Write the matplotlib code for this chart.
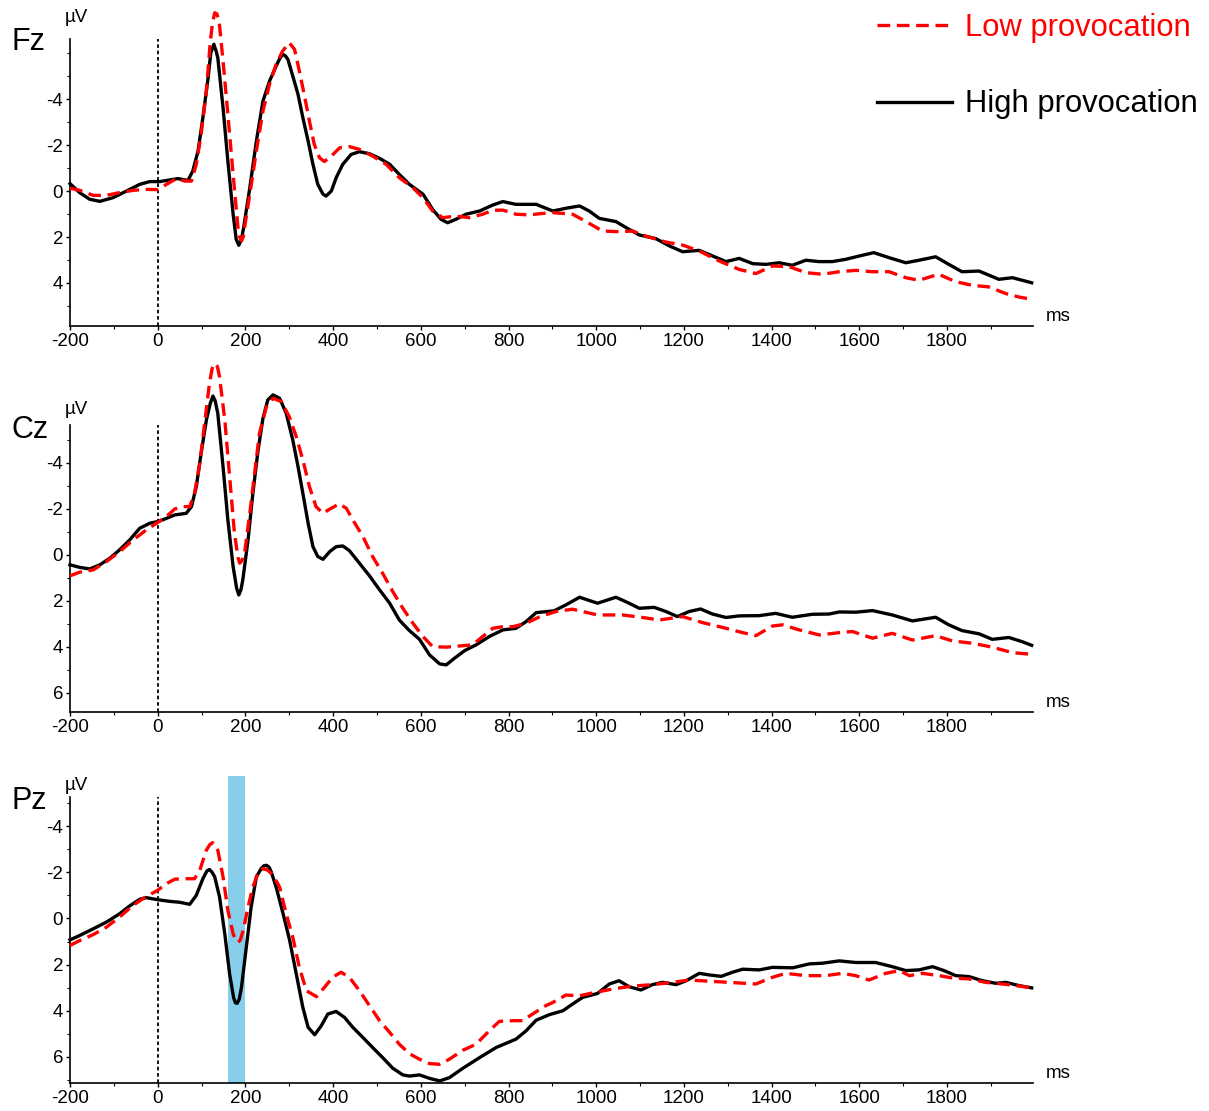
import matplotlib
matplotlib.use("Agg")
import matplotlib.pyplot as plt
from matplotlib.lines import Line2D
from matplotlib.patches import Rectangle
from matplotlib.ticker import MultipleLocator, FixedLocator

plt.rcParams['font.family'] = ['Liberation Sans', 'DejaVu Sans']
plt.rcParams['axes.unicode_minus'] = False

# (ms, µV); negative is plotted upwards
fz_high = [(-200, -0.32), (-178, 0.07), (-155, 0.36), (-132, 0.45), (-102, 0.29), (-71, 0.0),
           (-41, -0.29), (-18, -0.41), (5, -0.41), (27, -0.48), (46, -0.54), (69, -0.46),
           (80, -0.87), (92, -1.74), (103, -3.19), (115, -4.93), (121, -6.0), (128, -6.38),
           (133, -6.1), (137, -5.80), (149, -3.62), (160, -1.30), (172, 1.01), (179, 2.10),
           (185, 2.36), (191, 2.10), (196, 1.59), (210, -0.14), (225, -2.17), (240, -3.91),
           (255, -4.78), (270, -5.43), (278, -5.75), (285, -5.94), (291, -5.88), (297, -5.72),
           (308, -5.0), (320, -4.20), (331, -3.19), (343, -2.17), (354, -1.16), (365, -0.29),
           (377, 0.14), (384, 0.22), (396, 0.0), (407, -0.58), (422, -1.16), (441, -1.59),
           (460, -1.71), (483, -1.62), (506, -1.42), (529, -1.16), (551, -0.72), (574, -0.29),
           (605, 0.14), (627, 0.80), (646, 1.23), (661, 1.38), (680, 1.23), (703, 1.01),
           (734, 0.87), (764, 0.61), (787, 0.46), (817, 0.58), (863, 0.58), (901, 0.87),
           (931, 0.75), (962, 0.65), (984, 0.87), (1007, 1.19), (1045, 1.33), (1068, 1.59),
           (1098, 1.91), (1136, 2.07), (1167, 2.39), (1197, 2.64), (1235, 2.58), (1266, 2.83),
           (1296, 3.07), (1326, 2.93), (1357, 3.16), (1387, 3.19), (1417, 3.12), (1447, 3.23),
           (1478, 3.01), (1508, 3.07), (1538, 3.07), (1569, 2.97), (1599, 2.83), (1633, 2.68),
           (1668, 2.90), (1706, 3.12), (1736, 3.01), (1774, 2.86), (1804, 3.19), (1834, 3.51),
           (1873, 3.48), (1918, 3.84), (1949, 3.77), (1993, 3.99)]

fz_low = [(-200, -0.12), (-178, -0.03), (-147, 0.19), (-117, 0.19), (-87, 0.07), (-56, -0.03),
          (-26, -0.07), (0, -0.06), (20, -0.29), (43, -0.54), (62, -0.43), (77, -0.43),
          (88, -1.16), (99, -2.46), (111, -4.35), (120, -6.52), (125, -7.3), (130, -7.75),
          (135, -7.7), (140, -7.39), (149, -5.65), (160, -3.33), (172, -0.72), (183, 1.59),
          (187, 2.0), (191, 2.17), (195, 2.0), (198, 1.59), (210, 0.14), (225, -1.74),
          (240, -3.48), (255, -4.64), (270, -5.51), (285, -6.09), (300, -6.45), (312, -6.16),
          (323, -5.22), (334, -4.20), (346, -3.04), (357, -2.03), (369, -1.45), (380, -1.28),
          (396, -1.52), (415, -1.88), (437, -1.93), (460, -1.81), (490, -1.52), (521, -1.16),
          (551, -0.58), (582, -0.14), (605, 0.29), (627, 0.87), (650, 1.16), (680, 1.09),
          (711, 1.16), (741, 1.01), (764, 0.84), (787, 0.83), (817, 1.01), (848, 1.04),
          (870, 0.99), (901, 0.94), (946, 1.01), (977, 1.33), (1014, 1.74), (1052, 1.77),
          (1083, 1.74), (1113, 1.96), (1159, 2.22), (1197, 2.35), (1235, 2.61), (1280, 3.04),
          (1326, 3.41), (1364, 3.59), (1402, 3.26), (1440, 3.29), (1478, 3.55), (1516, 3.62),
          (1554, 3.51), (1592, 3.45), (1630, 3.51), (1668, 3.51), (1706, 3.77), (1736, 3.88),
          (1781, 3.62), (1819, 3.94), (1857, 4.10), (1895, 4.17), (1934, 4.46), (1964, 4.61),
          (1993, 4.71)]

cz_high = [(-200, 0.43), (-178, 0.54), (-155, 0.61), (-132, 0.43), (-109, 0.14), (-87, -0.22),
           (-64, -0.65), (-41, -1.16), (-18, -1.38), (0, -1.45), (20, -1.59), (39, -1.74),
           (65, -1.81), (77, -2.10), (88, -2.97), (99, -4.42), (111, -5.87), (120, -6.6),
           (126, -6.91), (131, -6.7), (137, -6.16), (149, -3.84), (160, -1.52), (172, 0.51),
           (180, 1.45), (185, 1.74), (190, 1.5), (194, 1.09), (206, -0.65), (217, -2.68),
           (229, -4.57), (240, -5.94), (251, -6.74), (263, -6.96), (278, -6.81), (293, -6.16),
           (308, -5.0), (320, -3.84), (331, -2.68), (343, -1.38), (354, -0.36), (365, 0.07),
           (377, 0.19), (392, -0.14), (407, -0.36), (422, -0.39), (437, -0.19), (460, 0.36),
           (483, 0.91), (506, 1.52), (529, 2.10), (551, 2.83), (574, 3.29), (597, 3.67),
           (620, 4.35), (643, 4.74), (658, 4.78), (677, 4.49), (700, 4.16), (726, 3.91),
           (756, 3.55), (787, 3.26), (817, 3.19), (840, 2.90), (863, 2.51), (904, 2.43),
           (931, 2.17), (962, 1.84), (1003, 2.10), (1045, 1.84), (1075, 2.10), (1098, 2.32),
           (1132, 2.28), (1159, 2.46), (1185, 2.68), (1212, 2.46), (1238, 2.35), (1265, 2.57),
           (1296, 2.72), (1326, 2.65), (1372, 2.64), (1409, 2.54), (1447, 2.71), (1493, 2.58),
           (1531, 2.57), (1554, 2.48), (1592, 2.49), (1630, 2.42), (1675, 2.61), (1721, 2.87),
           (1774, 2.71), (1804, 3.04), (1834, 3.29), (1873, 3.43), (1903, 3.67), (1941, 3.59),
           (1971, 3.77), (1993, 3.93)]

cz_low = [(-200, 0.91), (-178, 0.75), (-147, 0.65), (-117, 0.29), (-87, -0.14), (-56, -0.65),
          (-26, -1.09), (0, -1.41), (20, -1.67), (39, -2.0), (58, -2.10), (73, -2.10),
          (84, -2.68), (96, -3.99), (107, -5.72), (118, -7.46), (124, -8.1), (130, -8.33),
          (136, -8.2), (141, -7.75), (153, -5.87), (164, -3.41), (175, -0.94), (183, 0.1),
          (187, 0.36), (192, 0.25), (198, -0.07), (210, -1.81), (221, -3.55), (232, -5.29),
          (248, -6.45), (263, -6.81), (282, -6.67), (300, -6.01), (316, -5.14), (331, -4.13),
          (346, -2.97), (361, -2.10), (377, -1.81), (392, -1.99), (414, -2.22), (430, -2.03),
          (445, -1.52), (468, -0.80), (490, 0.07), (513, 0.80), (536, 1.59), (559, 2.32),
          (582, 2.97), (605, 3.55), (627, 3.99), (658, 4.01), (688, 3.96), (718, 3.91),
          (741, 3.55), (764, 3.19), (787, 3.12), (810, 3.12), (840, 2.97), (870, 2.70),
          (908, 2.46), (946, 2.36), (1003, 2.61), (1060, 2.61), (1106, 2.72), (1144, 2.83),
          (1197, 2.68), (1242, 2.94), (1296, 3.19), (1334, 3.38), (1364, 3.51), (1402, 3.09),
          (1425, 3.04), (1463, 3.26), (1509, 3.48), (1554, 3.38), (1584, 3.33), (1630, 3.62),
          (1675, 3.41), (1721, 3.70), (1774, 3.51), (1812, 3.74), (1858, 3.84), (1903, 4.01),
          (1949, 4.25), (1993, 4.32)]

pz_high = [(-200, 0.93), (-178, 0.74), (-147, 0.45), (-117, 0.16), (-87, -0.20), (-64, -0.54),
           (-41, -0.83), (-26, -0.90), (0, -0.81), (27, -0.74), (50, -0.70), (73, -0.61),
           (88, -1.0), (103, -1.72), (112, -2.05), (118, -2.12), (124, -2.0), (130, -1.80),
           (141, -0.93), (153, 0.67), (164, 2.41), (173, 3.42), (177, 3.65), (181, 3.68),
           (186, 3.5), (191, 2.99), (202, 1.25), (213, -0.49), (225, -1.80), (236, -2.16),
           (242, -2.28), (248, -2.30), (254, -2.22), (259, -2.01), (270, -1.36), (286, -0.20),
           (301, 0.96), (316, 2.41), (331, 3.86), (343, 4.72), (358, 5.04), (373, 4.65),
           (388, 4.14), (407, 4.03), (426, 4.29), (445, 4.72), (468, 5.16), (490, 5.59),
           (513, 6.03), (536, 6.49), (559, 6.78), (574, 6.83), (597, 6.78), (620, 6.93),
           (643, 7.04), (665, 6.90), (696, 6.49), (734, 6.03), (772, 5.59), (817, 5.23),
           (840, 4.87), (863, 4.41), (893, 4.17), (924, 4.0), (946, 3.71), (969, 3.42),
           (1003, 3.25), (1030, 2.84), (1052, 2.70), (1075, 2.96), (1102, 3.10), (1128, 2.87),
           (1151, 2.77), (1182, 2.87), (1205, 2.70), (1235, 2.38), (1258, 2.45), (1285, 2.51),
           (1311, 2.33), (1334, 2.20), (1372, 2.23), (1402, 2.12), (1448, 2.14), (1486, 1.97),
           (1516, 1.94), (1554, 1.84), (1592, 1.91), (1637, 1.91), (1675, 2.09), (1706, 2.26),
           (1736, 2.23), (1767, 2.09), (1793, 2.26), (1820, 2.48), (1850, 2.52), (1881, 2.70),
           (1911, 2.81), (1934, 2.77), (1964, 2.91), (1993, 3.01)]

pz_low = [(-200, 1.17), (-178, 0.96), (-147, 0.70), (-117, 0.38), (-87, -0.06), (-56, -0.57),
          (-30, -0.90), (0, -1.22), (20, -1.51), (39, -1.70), (65, -1.72), (84, -1.72),
          (96, -2.09), (111, -2.96), (119, -3.2), (125, -3.28), (131, -3.2), (137, -2.96),
          (149, -1.80), (160, -0.35), (172, 0.67), (179, 0.98), (183, 1.03), (188, 0.95),
          (195, 0.52), (206, -0.49), (217, -1.36), (229, -1.97), (240, -2.16), (251, -2.09),
          (263, -1.87), (278, -1.36), (293, -0.20), (308, 0.81), (323, 2.12), (339, 3.13),
          (362, 3.39), (380, 2.99), (399, 2.55), (418, 2.33), (437, 2.55), (460, 3.13),
          (483, 3.78), (506, 4.43), (529, 4.94), (551, 5.45), (574, 5.86), (597, 6.10),
          (620, 6.29), (643, 6.32), (665, 6.10), (696, 5.71), (726, 5.45), (756, 4.87),
          (779, 4.46), (810, 4.43), (832, 4.43), (855, 4.14), (885, 3.78), (901, 3.64),
          (931, 3.32), (962, 3.35), (999, 3.20), (1037, 3.06), (1083, 2.93), (1128, 2.87),
          (1174, 2.77), (1212, 2.67), (1258, 2.72), (1311, 2.78), (1364, 2.84), (1402, 2.55),
          (1432, 2.38), (1478, 2.48), (1523, 2.48), (1561, 2.38), (1592, 2.48), (1622, 2.67),
          (1660, 2.38), (1691, 2.26), (1714, 2.48), (1744, 2.38), (1782, 2.48), (1812, 2.58),
          (1850, 2.62), (1888, 2.77), (1926, 2.84), (1957, 2.91), (1993, 3.01)]

channels = ['Fz', 'Cz', 'Pz']
xticks = [-200, 0, 200, 400, 600, 800, 1000, 1200, 1400, 1600, 1800]
highlight_ms = (160, 200)  # shaded window on Pz

W, H = 1209, 1111
fig = plt.figure(figsize=(W / 100, H / 100), dpi=100)

def px(x, y):
    return x / W, 1 - y / H

# per panel: top px, bottom px, ylim (bottom, top), y ticks, label y px, µV y px, data
panels = [
    (39, 326, 5.87, -6.61, [-4, -2, 0, 2, 4], 42, 18, fz_high, fz_low),
    (425, 712, 6.83, -5.65, [-4, -2, 0, 2, 4, 6], 430, 410, cz_high, cz_low),
    (797, 1083, 7.13, -5.26, [-4, -2, 0, 2, 4, 6], 801, 786, pz_high, pz_low),
]

left, right = 70, 1033
for i, (top, bot, y0, y1, yt, lab_y, uv_y, high, low) in enumerate(panels):
    ax = fig.add_axes([left / W, 1 - bot / H, (right - left) / W, (bot - top) / H])
    ax.set_xlim(-200, 1996)
    ax.set_ylim(y0, y1)
    for s in ['top', 'right']:
        ax.spines[s].set_visible(False)
    ax.spines['left'].set_linewidth(1.2)
    ax.spines['bottom'].set_linewidth(1.2)

    ax.xaxis.set_major_locator(FixedLocator(xticks))
    ax.xaxis.set_minor_locator(MultipleLocator(100))
    ax.yaxis.set_major_locator(FixedLocator(yt))
    ax.yaxis.set_minor_locator(MultipleLocator(1))
    ax.set_xticklabels([str(t) for t in xticks])
    ax.set_yticklabels([str(t) for t in yt])
    ax.tick_params(which='major', length=3, width=1, labelsize=13.5, pad=2)
    ax.tick_params(which='minor', length=2, width=0.8)

    ax.axvline(0, color='black', lw=1.3, ls=(0, (2, 1.5)), zorder=1)

    if channels[i] == 'Pz':
        ax.add_patch(Rectangle((highlight_ms[0], y0), highlight_ms[1] - highlight_ms[0],
                               -6.19 - y0, color='#87CEEB', lw=0, zorder=0, clip_on=False))

    ht, hv = zip(*high)
    lt, lv = zip(*low)
    ax.plot(ht, hv, color='black', lw=2.4, zorder=3, clip_on=False,
            solid_joinstyle='round')
    ax.plot(lt, lv, color='red', lw=2.4, ls=(0, (3.8, 2.0)), zorder=4, clip_on=False)

    fig.text(*px(11, lab_y), channels[i], fontsize=22, ha='left', va='center')
    fig.text(*px(65, uv_y), 'µV', fontsize=13.5, ha='left', va='center')
    ax.text(1.0135, 0.005, 'ms', transform=ax.transAxes, fontsize=13.5, ha='left', va='bottom')

# legend
fig.add_artist(Line2D([877 / W, 952 / W], [1 - 25 / H, 1 - 25 / H], color='red', lw=2.4,
                      ls=(0, (3.8, 2.0))))
fig.add_artist(Line2D([877 / W, 952 / W], [1 - 102 / H, 1 - 102 / H], color='black', lw=2.4))
fig.text(*px(965, 36), 'Low provocation', color='red', fontsize=22.3, ha='left', va='baseline')
fig.text(*px(965, 112), 'High provocation', color='black', fontsize=22.3, ha='left', va='baseline')

fig.savefig('out.png', dpi=100)
